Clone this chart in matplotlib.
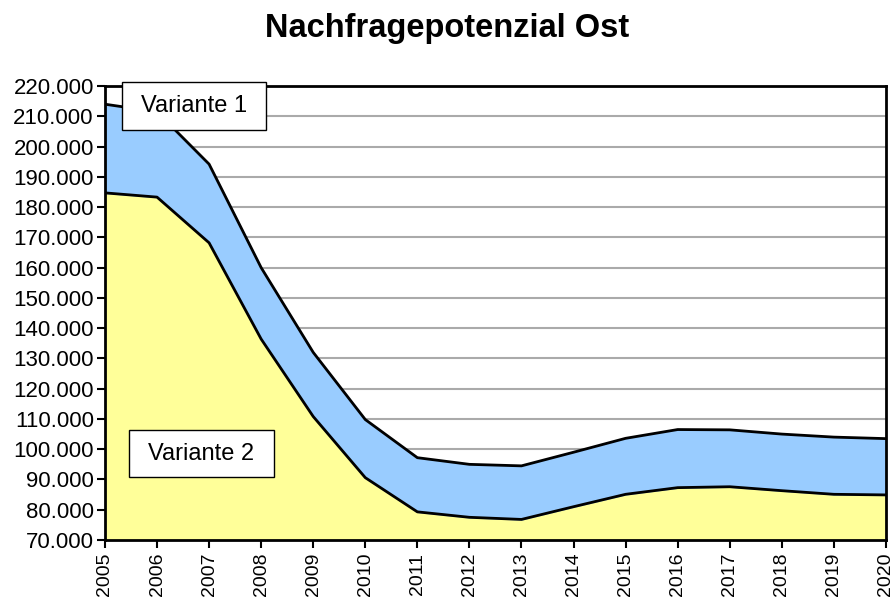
import matplotlib.pyplot as plt
from matplotlib.patches import Rectangle
from matplotlib.ticker import FuncFormatter

plt.rcParams['font.family'] = ['Liberation Sans', 'DejaVu Sans']

# Jahre und Werte
years = list(range(2005, 2021))
variante_1 = [214.0, 211.5, 194.2, 160.0, 132.0, 109.8, 97.2, 95.0, 94.5, 99.0,
              103.6, 106.5, 106.4, 105.0, 104.0, 103.5]
variante_2 = [184.7, 183.3, 168.2, 136.4, 110.8, 90.6, 79.3, 77.5, 76.8, 81.0,
              85.1, 87.3, 87.6, 86.3, 85.1, 84.9]

v1 = [v * 1000 for v in variante_1]
v2 = [v * 1000 for v in variante_2]

fig = plt.figure(figsize=(8.94, 6.06), dpi=100)
ax = fig.add_axes([0.1174, 0.1089, 0.8736, 0.7491])

ax.fill_between(years, 70000, v2, color='#FFFF99', zorder=2)
ax.fill_between(years, v2, v1, color='#99CCFF', zorder=2)
ax.plot(years, v1, color='black', lw=2, zorder=3)
ax.plot(years, v2, color='black', lw=2, zorder=3)

ax.set_xlim(2005, 2020)
ax.set_ylim(70000, 220000)
ax.set_xticks(years)
ax.set_xticklabels([str(y) for y in years], rotation=90, fontsize=14)
ax.set_yticks(range(70000, 220001, 10000))
ax.yaxis.set_major_formatter(FuncFormatter(lambda v, p: f'{int(v):,}'.replace(',', '.')))
ax.tick_params(axis='y', labelsize=16, direction='out', length=6, width=1.5, pad=2)
ax.tick_params(axis='x', direction='out', length=6, width=1.5, pad=3)
ax.grid(axis='y', color='#AAAAAA', lw=1.5, zorder=1)
for s in ax.spines.values():
    s.set_linewidth(2)
    s.set_zorder(4)

# Beschriftungskästen
for (x0, y0, w, h), label in [((2005.33, 205450, 2.76, 15870), 'Variante 1'),
                              ((2005.46, 90810, 2.785, 15530), 'Variante 2')]:
    ax.add_patch(Rectangle((x0, y0), w, h, facecolor='white', edgecolor='black',
                           lw=1, zorder=5, clip_on=False))
    ax.text(x0 + w / 2, y0 + h / 2, label, ha='center', va='center',
            fontsize=17, zorder=6)

fig.text(0.5, 0.953, 'Nachfragepotenzial Ost', ha='center', va='center',
         fontsize=23.5, fontweight='bold')

fig.savefig('out.png', dpi=100)
